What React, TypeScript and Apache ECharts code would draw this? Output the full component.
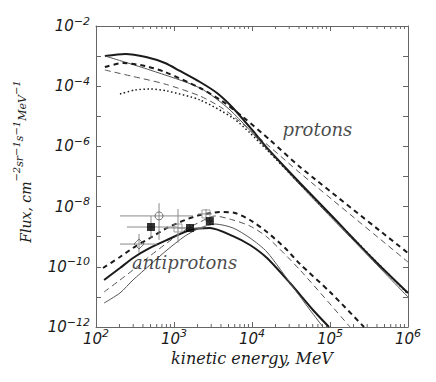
import React, { useEffect, useRef } from "react";
import * as echarts from "echarts";

// ---- data (kinetic energy in MeV, flux in cm^-2 sr^-1 s^-1 MeV^-1) ----
const protonThickSolid: number[][] = [
  [130, 1.01e-3], [236, 1.18e-3], [438, 9.33e-4], [766, 5.9e-4], [1194, 3.2e-4],
  [2154, 1.38e-4], [3558, 5.94e-5], [5707, 1.89e-5], [10300, 3.25e-6], [15570, 8.85e-7],
  [41250, 6.08e-8], [1e5, 5.68e-9], [345500, 1.96e-10], [1e6, 1.35e-11],
];
const protonThickDashed: number[][] = [
  [130, 4.34e-4], [222, 5.9e-4], [425, 4.69e-4], [766, 2.96e-4], [2154, 8.71e-5],
  [4120, 3.22e-5], [7665, 9.48e-6], [17010, 1.63e-6], [41250, 2.07e-7], [1e6, 2.87e-10],
];
const protonThinDashed: number[][] = [
  [130, 3.45e-4], [281, 2.18e-4], [766, 1.18e-4], [2154, 4.72e-5], [4120, 1.89e-5],
  [7665, 5.55e-6], [17010, 9.55e-7], [41250, 1.31e-7], [1e6, 1.44e-10],
];
const protonThinSolid: number[][] = [
  [130, 1.01e-3], [492, 3.45e-4], [2154, 8.71e-5], [5223, 1.62e-5], [15570, 8.2e-7],
  [41250, 5.23e-8], [1e6, 9.93e-12],
];
const protonDotted: number[][] = [
  [203, 5.51e-5], [316, 7.48e-5], [492, 8.07e-5], [813, 6.93e-5], [2154, 3.48e-5],
  [5707, 8.79e-6], [9427, 2.79e-6], [15570, 7.59e-7], [41250, 5.64e-8], [1e6, 1.25e-11],
];

const pbarThickSolid: number[][] = [
  [127, 3.64e-11], [203, 9.12e-11], [298, 1.96e-10], [492, 4.22e-10], [813, 7.76e-10],
  [1604, 1.67e-9], [2894, 1.95e-9], [5707, 1.05e-9], [9427, 5.3e-10], [15570, 1.96e-10],
  [30700, 2.9e-11], [60550, 3.67e-12], [97100, 1e-12],
];
const pbarThinSolid: number[][] = [
  [127, 6.27e-12], [203, 1.35e-11], [298, 3.64e-11], [492, 1.15e-10], [813, 3.61e-10],
  [1384, 1.05e-9], [2154, 1.95e-9], [3355, 2.64e-9], [5707, 1.95e-9], [9427, 9.06e-10],
  [15570, 3.1e-10], [33550, 2.13e-11], [55410, 3.67e-12], [81340, 1e-12],
];
const pbarThickDashed: number[][] = [
  [123, 9.12e-11], [203, 2.12e-10], [298, 4.22e-10], [492, 9.06e-10], [813, 1.95e-9],
  [1384, 3.59e-9], [2154, 5.26e-9], [3889, 6.62e-9], [6055, 6.12e-9], [9427, 3.59e-9],
  [15570, 1.43e-9], [26490, 4.22e-10], [41250, 1.24e-10], [1e5, 1.46e-11], [272900, 1e-12],
];
const pbarThinDashed: number[][] = [
  [127, 1.46e-11], [203, 3.64e-11], [298, 7.83e-11], [492, 2.29e-10], [813, 6.18e-10],
  [1384, 1.67e-9], [2154, 3.08e-9], [3355, 4.88e-9], [5707, 3.59e-9], [9427, 2.26e-9],
  [15570, 9.77e-10], [41250, 7.83e-11], [180500, 1e-12],
];

// measurements: [E, flux, E low, E high, flux low, flux high]
const filledSquares: number[][] = [
  [507, 2.1e-9, 250, 1096, 9.1e-10, 4.9e-9],
  [1603, 1.95e-9, 1096, 2355, 1.43e-9, 2.64e-9],
  [2880, 3.3e-9, 2600, 3200, 2.3e-9, 4.3e-9],
];
const openSquares: number[][] = [
  [1125, 1.95e-9, 767, 1700, 6.2e-10, 8.3e-9],
  [2570, 5.7e-9, 2030, 3070, 3.3e-9, 8.3e-9],
];
const openCircles: number[][] = [[643, 4.9e-9, 203, 1754, 7.8e-10, 1.3e-8]];
const openDiamonds: number[][] = [[356, 5.7e-10, 203, 605, 2.9e-10, 1.23e-9]];

// axes (decade exponents)
const xExponents = [2, 6];
const yExponents = [-12, -2];
const minorMultipliers = [2, 3, 4, 5, 6, 7, 8, 9];
const minorDecades = [1e2, 1e3, 1e4, 1e5];

const textLabels = [
  { text: "protons", e: 6.9e4, f: 3.6e-6 },
  { text: "antiprotons", e: 1365, f: 1.39e-10 },
];

// ---- helpers ----
const lg = Math.log10;
const toLog = (pts: number[][]) => pts.map((p) => [lg(p[0]), lg(p[1])]);
const expText = (v: number) => (v < 0 ? "\u2212" + Math.abs(v) : String(v));

const INK = "#1a1a1a";
const AXIS = "#666";
const GRAY = "#555";

const tickRich = {
  b: { fontFamily: "DejaVu Sans", fontStyle: "italic", fontSize: 15, color: INK, lineHeight: 17 },
  s: { fontFamily: "DejaVu Sans", fontStyle: "italic", fontSize: 11, color: INK, lineHeight: 12, padding: [0, 0, 10, 0] },
};

const lineSeries = (name: string, pts: number[][], width: number, color: string, type: any) => ({
  type: "line",
  name,
  data: toLog(pts),
  showSymbol: false,
  symbol: "none",
  smooth: 0.25,
  silent: true,
  z: 2,
  lineStyle: { width, color, type, cap: "butt" },
});

const errorBars = (rows: number[][]) => ({
  type: "custom",
  silent: true,
  z: 3,
  data: rows.map((r) => r.map(lg)),
  renderItem: (_p: any, api: any) => {
    const x = api.value(0), y = api.value(1);
    const a = api.coord([api.value(2), y]);
    const b = api.coord([api.value(3), y]);
    const c = api.coord([x, api.value(4)]);
    const d = api.coord([x, api.value(5)]);
    const st = { stroke: "#8a8a8a", lineWidth: 1 };
    return {
      type: "group",
      children: [
        { type: "line", shape: { x1: a[0], y1: a[1], x2: b[0], y2: b[1] }, style: st },
        { type: "line", shape: { x1: c[0], y1: c[1], x2: d[0], y2: d[1] }, style: st },
      ],
    };
  },
});

const markerSeries = (rows: number[][], symbol: string, size: number, itemStyle: any) => ({
  type: "scatter",
  silent: true,
  z: 5,
  symbol,
  symbolSize: size,
  data: rows.map((r) => [lg(r[0]), lg(r[1])]),
  itemStyle,
});

const minorTickValues: number[] = [];
minorDecades.forEach((d) => minorMultipliers.forEach((m) => minorTickValues.push(lg(d * m))));

const minorTicks = {
  type: "custom",
  silent: true,
  z: 1,
  data: minorTickValues.map((v) => [v]),
  renderItem: (_p: any, api: any) => {
    const v = api.value(0);
    const bot = api.coord([v, yExponents[0]]);
    const top = api.coord([v, yExponents[1]]);
    const st = { stroke: AXIS, lineWidth: 1 };
    return {
      type: "group",
      children: [
        { type: "line", shape: { x1: bot[0], y1: bot[1], x2: bot[0], y2: bot[1] - 3 }, style: st },
        { type: "line", shape: { x1: top[0], y1: top[1], x2: top[0], y2: top[1] + 3 }, style: st },
      ],
    };
  },
};

const textSeries = {
  type: "scatter",
  silent: true,
  z: 6,
  symbolSize: 1,
  itemStyle: { color: "rgba(0,0,0,0)" },
  data: textLabels.map((t) => ({ value: [lg(t.e), lg(t.f)], name: t.text })),
  label: {
    show: true,
    position: "inside",
    formatter: (p: any) => p.name,
    fontFamily: "DejaVu Serif",
    fontStyle: "italic",
    fontSize: 18,
    color: INK,
  },
};

const axisCommon = {
  type: "value",
  splitLine: { show: false },
  axisLine: { show: true, lineStyle: { color: AXIS, width: 1 } },
  axisTick: { show: true, inside: true, length: 5, lineStyle: { color: AXIS } },
  interval: 1,
};

const option: any = {
  animation: false,
  backgroundColor: "#fff",
  grid: { left: 96, top: 26, width: 312, height: 301, containLabel: false },
  xAxis: [
    {
      ...axisCommon,
      min: xExponents[0],
      max: xExponents[1],
      position: "bottom",
      axisLabel: {
        show: true,
        margin: 3,
        showMinLabel: true,
        showMaxLabel: true,
        formatter: (v: number) => `{b|10}{s|${expText(v)}}`,
        rich: tickRich,
      },
      name: "kinetic energy, MeV",
      nameLocation: "middle",
      nameGap: 23,
      nameMoveOverlap: false,
      nameTextStyle: { fontFamily: "DejaVu Serif", fontStyle: "italic", fontSize: 16, color: INK },
    },
    {
      ...axisCommon,
      min: xExponents[0],
      max: xExponents[1],
      position: "top",
      axisLabel: { show: false },
    },
  ],
  yAxis: [
    {
      ...axisCommon,
      min: yExponents[0],
      max: yExponents[1],
      position: "left",
      axisLabel: {
        show: true,
        margin: 6,
        showMinLabel: true,
        showMaxLabel: true,
        formatter: (v: number) => (v % 2 === 0 ? `{b|10}{s|${expText(v)}}` : ""),
        rich: tickRich,
      },
      name: "{b|Flux, cm}{s|\u22122}{m|sr}{s|\u22121}{m|s}{s|\u22121}{M|MeV}{s|\u22121}",
      nameLocation: "middle",
      nameRotate: 90,
      nameGap: 56,
      nameTextStyle: {
        padding: [0, 0, 0, 30],
        rich: {
          b: { fontFamily: "DejaVu Serif", fontStyle: "italic", fontSize: 14, color: INK },
          s: { fontFamily: "DejaVu Serif", fontStyle: "italic", fontSize: 10, color: INK, padding: [0, 0, 19, 0] },
          m: { fontFamily: "DejaVu Serif", fontStyle: "italic", fontSize: 11, color: INK, padding: [0, 0, 12, 0] },
          M: { fontFamily: "DejaVu Serif", fontStyle: "italic", fontSize: 11, color: INK, padding: [0, 0, 6, 0] },
        },
      },
    },
    {
      ...axisCommon,
      min: yExponents[0],
      max: yExponents[1],
      position: "right",
      axisLabel: { show: false },
    },
  ],
  series: [
    minorTicks,
    lineSeries("p thick solid", protonThickSolid, 2, INK, "solid"),
    lineSeries("p thin solid", protonThinSolid, 1, GRAY, "solid"),
    lineSeries("p thick dashed", protonThickDashed, 2, INK, [5, 4]),
    lineSeries("p thin dashed", protonThinDashed, 1, GRAY, [6, 4]),
    lineSeries("p dotted", protonDotted, 1.5, INK, [1.5, 2.5]),
    lineSeries("pbar thick solid", pbarThickSolid, 2, INK, "solid"),
    lineSeries("pbar thin solid", pbarThinSolid, 1, GRAY, "solid"),
    lineSeries("pbar thick dashed", pbarThickDashed, 2, INK, [5, 4]),
    lineSeries("pbar thin dashed", pbarThinDashed, 1, GRAY, [6, 4]),
    errorBars(openCircles),
    errorBars(filledSquares),
    errorBars(openSquares),
    errorBars(openDiamonds),
    markerSeries(openCircles, "circle", 8, { color: "rgba(255,255,255,0)", borderColor: "#555", borderWidth: 1 }),
    markerSeries(openDiamonds, "diamond", 10, { color: "rgba(255,255,255,0)", borderColor: "#555", borderWidth: 1 }),
    markerSeries(openSquares, "rect", 8, { color: "rgba(255,255,255,0)", borderColor: "#888", borderWidth: 1 }),
    markerSeries(filledSquares, "rect", 8, { color: "#000" }),
    textSeries,
  ],
};

export default function App() {
  const ref = useRef<HTMLDivElement>(null);
  useEffect(() => {
    document.body.style.margin = "0";
    const chart = echarts.init(ref.current!, null, { renderer: "svg" });
    chart.setOption(option);
    return () => chart.dispose();
  }, []);
  return <div ref={ref} style={{ width: 436, height: 382, background: "#fff" }} />;
}
